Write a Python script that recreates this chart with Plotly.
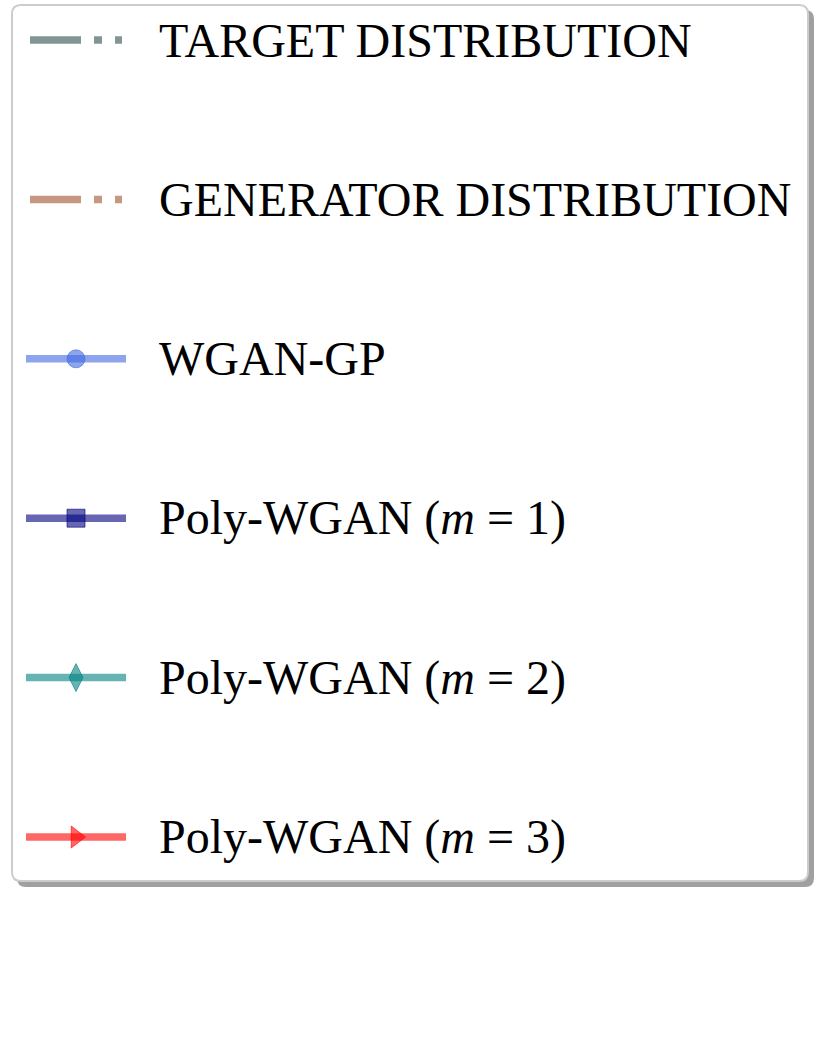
import plotly.graph_objects as go

# legend entries (this figure is only the legend of a larger plot)
labels = [
    "TARGET DISTRIBUTION",
    "GENERATOR DISTRIBUTION",
    "WGAN-GP",
    "Poly-WGAN (<i>m</i> = 1)",
    "Poly-WGAN (<i>m</i> = 2)",
    "Poly-WGAN (<i>m</i> = 3)",
]
line_colors = [
    "rgba(47,79,79,0.6)",
    "rgba(160,82,45,0.6)",
    "rgba(65,105,225,0.6)",
    "rgba(0,0,128,0.6)",
    "rgba(0,128,128,0.6)",
    "rgba(255,0,0,0.6)",
]
dashes = ["51px,13px,8px,13px,8px,200px", "51px,13px,8px,13px,8px,200px",
          "solid", "solid", "solid", "solid"]
symbols = [None, None, "circle", "square", "diamond-tall", "triangle-right"]
marker_sizes = [0, 0, 18, 18, 20, 19]

W, H = 822, 1040
row0, row_step = 40, 159.4
x_line = (26, 126)
x_text = 157

fig = go.Figure()

for i, (lab, col, dash, sym, ms) in enumerate(zip(labels, line_colors, dashes, symbols, marker_sizes)):
    y = row0 + i * row_step
    x0, x1 = x_line
    if sym is None:
        x0, x1 = 30, 122
    fig.add_trace(go.Scatter(
        x=[x0, x1], y=[y, y], mode="lines",
        line=dict(color=col, width=7.5, dash=dash),
        hoverinfo="skip",
    ))
    if sym is not None:
        fig.add_trace(go.Scatter(
            x=[(x0 + x1) / 2], y=[y], mode="markers",
            marker=dict(symbol=sym, size=ms, color=col, line=dict(color=col, width=1)),
            hoverinfo="skip",
        ))
    fig.add_annotation(
        x=x_text, y=y, text=lab, showarrow=False, xanchor="left", yanchor="middle",
        font=dict(family="Liberation Serif", size=48, color="black"),
    )

# legend frame: rounded box with a drop shadow
def rounded(x0, y0, x1, y1, r):
    return (f"M{x0+r},{y0} L{x1-r},{y0} Q{x1},{y0} {x1},{y0+r} L{x1},{y1-r} "
            f"Q{x1},{y1} {x1-r},{y1} L{x0+r},{y1} Q{x0},{y1} {x0},{y1-r} "
            f"L{x0},{y0+r} Q{x0},{y0} {x0+r},{y0} Z")

fig.add_shape(type="path", path=rounded(17, 10, 814, 887, 9), layer="below",
              fillcolor="rgba(120,120,120,0.7)", line=dict(width=0))
fig.add_shape(type="path", path=rounded(12, 5, 808, 881, 9), layer="below",
              fillcolor="white", line=dict(color="#cccccc", width=2))

fig.update_xaxes(range=[0, W], visible=False, fixedrange=True)
fig.update_yaxes(range=[H, 0], visible=False, fixedrange=True)
fig.update_layout(
    width=W, height=H, margin=dict(l=0, r=0, t=0, b=0),
    showlegend=False, plot_bgcolor="white", paper_bgcolor="white",
)

fig.write_html("out.html", config={"displayModeBar": False},
               post_script="document.body.style.margin='0';")
